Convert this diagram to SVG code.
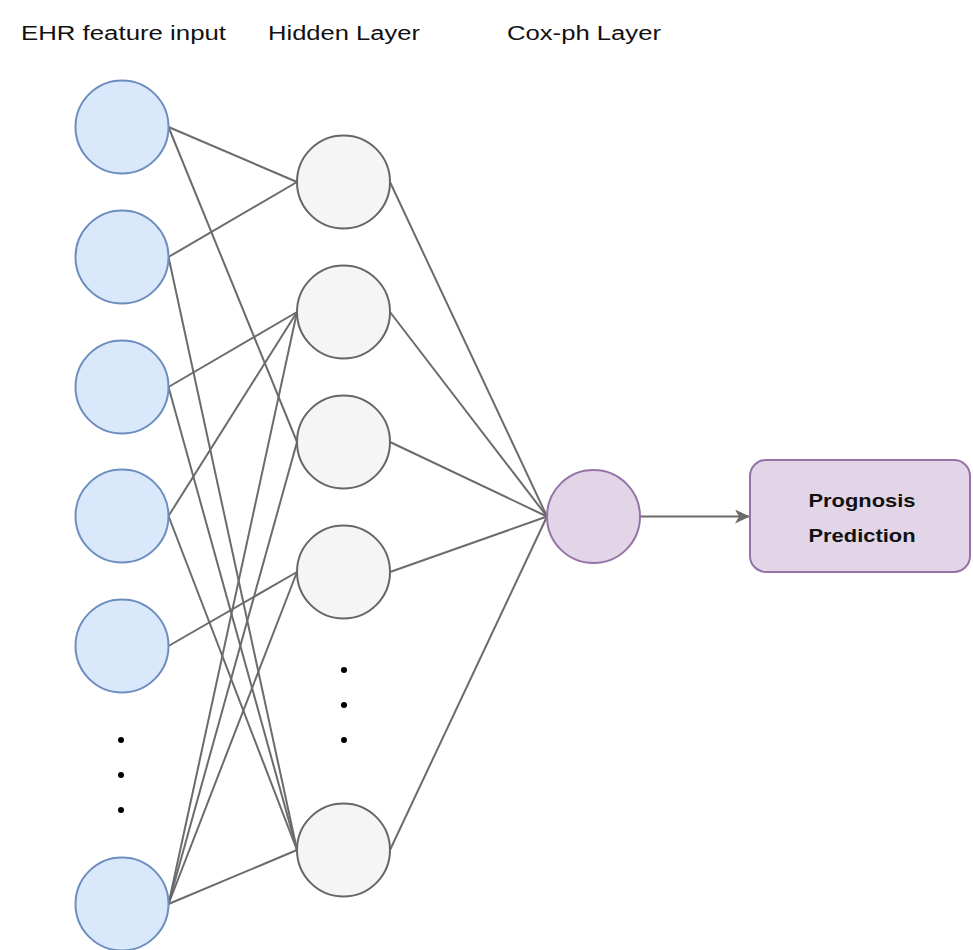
<svg xmlns="http://www.w3.org/2000/svg" width="973" height="950" viewBox="0 0 973 950">
<style>
.hdr{font-family:"Liberation Sans",Arial,Helvetica,sans-serif;font-size:20px;fill:#111}
.lbl{font-family:"Liberation Sans",Arial,Helvetica,sans-serif;font-size:18px;font-weight:bold;fill:#111;text-anchor:middle}
.inp{fill:#dae8fc;stroke:#6c8ebf;stroke-width:2}
.hid{fill:#f5f5f5;stroke:#666666;stroke-width:2}
.cox{fill:#e1d5e7;stroke:#9673a6;stroke-width:2}
.edge{stroke:#6b6b6b;stroke-width:2;fill:none}
.dot{fill:#000}
</style>
<defs>
<marker id="arr" markerWidth="16" markerHeight="14" refX="15" refY="7" orient="auto" markerUnits="userSpaceOnUse">
<path d="M0,0 L15,7 L0,14 L4,7 Z" fill="#6b6b6b"/>
</marker>
</defs>
<rect width="973" height="950" fill="#ffffff"/>
<g id="headers">
<text class="hdr" x="21" y="40" textLength="205" lengthAdjust="spacingAndGlyphs">EHR feature input</text>
<text class="hdr" x="268" y="40" textLength="152" lengthAdjust="spacingAndGlyphs">Hidden Layer</text>
<text class="hdr" x="507" y="40" textLength="154" lengthAdjust="spacingAndGlyphs">Cox-ph Layer</text>
</g>
<g id="connectors">
<line class="edge" x1="168.5" y1="127" x2="297" y2="182"/>
<line class="edge" x1="168.5" y1="127" x2="297" y2="442"/>
<line class="edge" x1="168.5" y1="257" x2="297" y2="182"/>
<line class="edge" x1="168.5" y1="257" x2="297" y2="850"/>
<line class="edge" x1="168.5" y1="387" x2="297" y2="312"/>
<line class="edge" x1="168.5" y1="387" x2="297" y2="850"/>
<line class="edge" x1="168.5" y1="516" x2="297" y2="312"/>
<line class="edge" x1="168.5" y1="516" x2="297" y2="850"/>
<line class="edge" x1="168.5" y1="646" x2="297" y2="572"/>
<line class="edge" x1="168.5" y1="904" x2="297" y2="312"/>
<line class="edge" x1="168.5" y1="904" x2="297" y2="442"/>
<line class="edge" x1="168.5" y1="904" x2="297" y2="572"/>
<line class="edge" x1="168.5" y1="904" x2="297" y2="850"/>
<line class="edge" x1="390" y1="182" x2="547" y2="516.5"/>
<line class="edge" x1="390" y1="312" x2="547" y2="516.5"/>
<line class="edge" x1="390" y1="442" x2="547" y2="516.5"/>
<line class="edge" x1="390" y1="572" x2="547" y2="516.5"/>
<line class="edge" x1="390" y1="850" x2="547" y2="516.5"/>
<line class="edge" x1="640" y1="516.5" x2="750" y2="516.5" marker-end="url(#arr)"/>
</g>
<g id="input1"><circle class="inp" cx="122" cy="127" r="46.5"/></g>
<g id="input2"><circle class="inp" cx="122" cy="257" r="46.5"/></g>
<g id="input3"><circle class="inp" cx="122" cy="387" r="46.5"/></g>
<g id="input4"><circle class="inp" cx="122" cy="516" r="46.5"/></g>
<g id="input5"><circle class="inp" cx="122" cy="646" r="46.5"/></g>
<g id="input-dots"><circle class="dot" cx="121" cy="740" r="3"/><circle class="dot" cx="121" cy="775" r="3"/><circle class="dot" cx="121" cy="810" r="3"/></g>
<g id="inputN"><circle class="inp" cx="122" cy="904" r="46.5"/></g>
<g id="hidden1"><circle class="hid" cx="343.5" cy="182" r="46.5"/></g>
<g id="hidden2"><circle class="hid" cx="343.5" cy="312" r="46.5"/></g>
<g id="hidden3"><circle class="hid" cx="343.5" cy="442" r="46.5"/></g>
<g id="hidden4"><circle class="hid" cx="343.5" cy="572" r="46.5"/></g>
<g id="hidden-dots"><circle class="dot" cx="344" cy="670" r="3"/><circle class="dot" cx="344" cy="705" r="3"/><circle class="dot" cx="344" cy="740" r="3"/></g>
<g id="hiddenN"><circle class="hid" cx="343.5" cy="850" r="46.5"/></g>
<g id="coxph"><circle class="cox" cx="593.5" cy="516.5" r="46.5"/></g>
<g id="prognosis">
<rect class="cox" x="750" y="460" width="220" height="112" rx="16" ry="16"/>
<text class="lbl" x="862" y="507" textLength="107" lengthAdjust="spacingAndGlyphs">Prognosis</text>
<text class="lbl" x="862" y="542" textLength="107" lengthAdjust="spacingAndGlyphs">Prediction</text>
</g>
</svg>
